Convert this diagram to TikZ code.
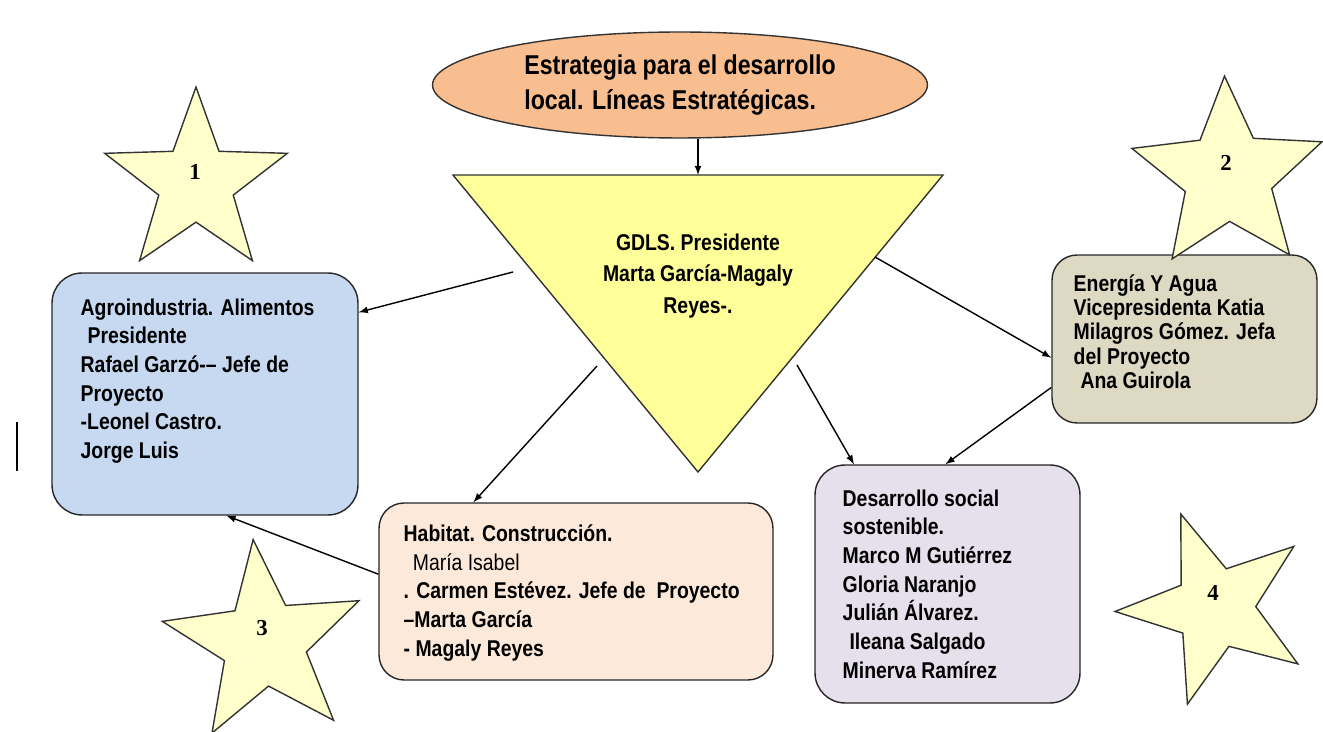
\documentclass[tikz,border=0pt]{standalone}
\usepackage{fontspec}
\setmainfont{Liberation Sans}[FakeStretch=0.85]
\newfontfamily\numfont{Liberation Serif}
\usetikzlibrary{arrows,shapes.geometric}
\definecolor{naranja}{HTML}{F9BE8F}
\definecolor{amarillo}{HTML}{FFFF99}
\definecolor{palido}{HTML}{FFFFCC}
\definecolor{azul}{HTML}{C6D9F1}
\definecolor{rosa}{HTML}{FDE9D9}
\definecolor{lila}{HTML}{E5E0EC}
\definecolor{caqui}{HTML}{DDD9C3}
\begin{document}
\begin{tikzpicture}[x=0.02cm,y=-0.02cm,line width=0.8pt,>=latex,
  caja/.style={draw=black!85,line width=0.8pt,rounded corners=#1,inner sep=0pt},
  texto/.style={anchor=north west,inner sep=0pt,align=left,font=\fontsize{13}{16.3}\selectfont\bfseries},
  estrella/.style={star,star points=5,draw=black!80,fill=palido,inner sep=0pt},
  numero/.style={inner sep=0pt,font=\numfont\bfseries\fontsize{13}{13}\selectfont}]
\useasboundingbox (0,0) rectangle (1323,732);
\node[ellipse,draw=black!80,line width=0.8pt,fill=naranja,minimum width=9.9cm,minimum height=2.12cm,inner sep=0pt,align=left,font=\fontsize{15.5}{19.8}\selectfont\bfseries] (est) at (680,85) {Estrategia para el desarrollo\\local. Líneas Estratégicas.};
\coordinate (tl) at (453,175);
\coordinate (tr) at (943,175);
\coordinate (tb) at (698,472);
\coordinate (ttop) at (698,175);
\draw[draw=black!80,line width=0.8pt,fill=amarillo] (tl)--(tr)--(tb)--cycle;
\node[align=center,inner sep=0pt,font=\fontsize{13}{18}\selectfont\bfseries] (gdls) at (698,276) {GDLS. Presidente\\Marta García-Magaly\\Reyes-.};
\node[caja=0.6cm,fill=azul,minimum width=6.12cm,minimum height=4.84cm] (agro) at (205,394) {};
\node[texto] (agrot) at (80,298) {Agroindustria. Alimentos\\\hspace*{0.3em}Presidente\\Rafael Garzó-– Jefe de\\Proyecto\\-Leonel Castro.\\Jorge Luis};
\node[caja=0.5cm,fill=rosa,minimum width=7.88cm,minimum height=3.54cm] (hab) at (576,591.5) {};
\node[texto] (habt) at (403,524) {Habitat. Construcción.\\\hspace*{0.4em}{\mdseries María Isabel}\\. Carmen Estévez. Jefe de\ \ Proyecto\\–Marta García\\- Magaly Reyes};
\node[caja=0.6cm,fill=lila,minimum width=5.3cm,minimum height=4.76cm] (des) at (947.5,584) {};
\node[texto] (dest) at (842,489) {Desarrollo social\\sostenible.\\Marco M Gutiérrez\\Gloria Naranjo\\Julián Álvarez.\\\hspace*{0.3em}Ileana Salgado\\Minerva Ramírez};
\node[caja=0.5cm,fill=caqui,minimum width=5.3cm,minimum height=3.36cm] (ene) at (1184.5,339) {};
\node[texto,font=\fontsize{13}{13.8}\selectfont\bfseries] (enet) at (1073,274) {Energía Y Agua\\Vicepresidenta Katia\\Milagros Gómez. Jefa\\del Proyecto\\\hspace*{0.3em}Ana Guirola};
\node[estrella,minimum size=3.84cm,star point ratio=2.45] (e1) at (196,183) {};
\node[numero] (n1) at (195,172) {1};
\node[estrella,minimum size=4cm,star point ratio=2.2,shape border rotate=2] (e2) at (1228,176) {};
\node[numero] (n2) at (1226,163) {2};
\node[estrella,minimum size=4.16cm,star point ratio=2.4,shape border rotate=6] (e3) at (264,643) {};
\node[numero] (n3) at (262,628) {3};
\node[estrella,minimum size=4cm,star point ratio=2.45,shape border rotate=20] (e4) at (1215,608) {};
\node[numero] (n4) at (1213,593) {4};
\coordinate (t1) at (513,272);
\coordinate (t2) at (597,366);
\coordinate (t3) at (797,365);
\coordinate (t4) at (875,257);
\draw[->] (ttop |- est.south) -- (ttop);
\draw[->] (t1) -- (agro.28);
\draw[->] (t2) -- (hab.139);
\draw[->] (t3) -- (des.128);
\draw[->] (t4) -- (ene.188);
\draw[->] (ene.200) -- (des.91);
\draw[->] (hab.175) -- (agro.280);
\draw[line width=1.7pt] (17,422) -- (17,471);
\end{tikzpicture}
\end{document}
